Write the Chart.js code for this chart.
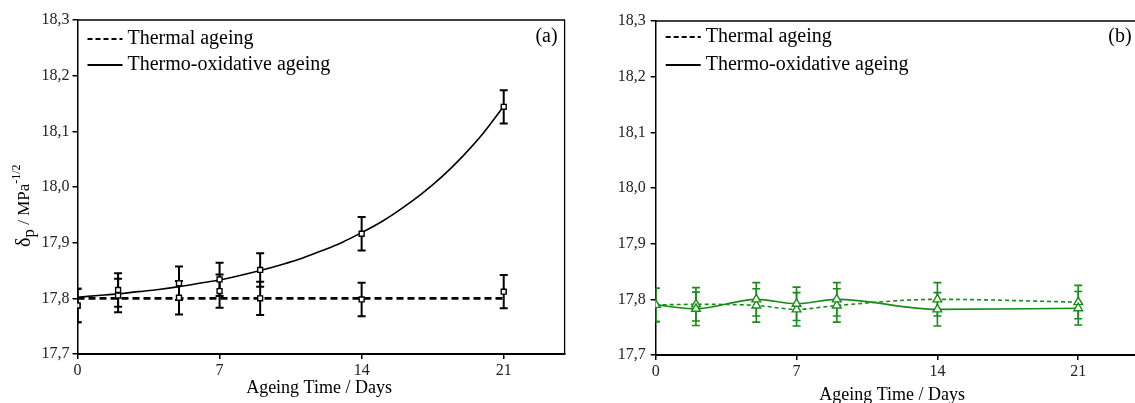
<!DOCTYPE html>
<html>
<head>
<meta charset="utf-8">
<title>Solubility parameter vs ageing time</title>
<script src="https://cdn.jsdelivr.net/npm/chart.js@4.4.1/dist/chart.umd.min.js"></script>
<style>
  html, body { margin: 0; padding: 0; background: #fff; overflow: hidden; }
  #wrap { position: relative; width: 1135px; height: 403px; overflow: hidden; }
  #chartA { position: absolute; left: 0; top: 0; }
  #chartB { position: absolute; left: 570px; top: 0; }
</style>
</head>
<body>
<div id="wrap">
  <canvas id="chartA" width="570" height="403"></canvas>
  <canvas id="chartB" width="575" height="403"></canvas>
</div>
<script>
let days = [0, 2, 5, 7, 9, 14, 21]
let dayTicks = [0, 7, 14, 21]
let deltaTicks = [17.7, 17.8, 17.9, 18.0, 18.1, 18.2, 18.3]
let seriesNames = ['Thermal ageing', 'Thermo-oxidative ageing']

// panel (a)
let thermalA = [17.787, 17.805, 17.801, 17.813, 17.800, 17.798, 17.812]
let thermalAErr = [0.03, 0.03, 0.03, 0.03, 0.03, 0.03, 0.03]
let oxidativeA = [17.787, 17.815, 17.827, 17.834, 17.851, 17.916, 18.144]
let oxidativeAErr = [0.03, 0.03, 0.03, 0.03, 0.03, 0.03, 0.03]
let thermalFitDays = [0, 21]
let thermalFitA = [17.800, 17.800]
let oxidativeFitDays = [0, 1, 2, 3, 4, 5, 6, 7, 8, 9, 10, 11, 12, 13, 14, 15, 16, 17, 18, 19, 20, 21]
let oxidativeFitA = [17.802, 17.805, 17.808, 17.812, 17.816, 17.821, 17.827, 17.833, 17.841, 17.850,
  17.860, 17.871, 17.885, 17.900, 17.918, 17.938, 17.962, 17.989, 18.020, 18.056, 18.097, 18.145]

// panel (b)
let thermalB = [17.790, 17.791, 17.789, 17.782, 17.789, 17.800, 17.795]
let thermalBErr = [0.03, 0.03, 0.03, 0.03, 0.03, 0.03, 0.03]
let oxidativeB = [17.790, 17.783, 17.800, 17.792, 17.800, 17.782, 17.784]
let oxidativeBErr = [0.03, 0.03, 0.03, 0.03, 0.03, 0.03, 0.03]

let serif = '"Liberation Serif", "Times New Roman", serif'
let green = 'rgb(24,140,24)'

let points = (xs, ys) => xs.map((x, i) => ({ x: x, y: ys[i] }))

// vertical error bars with caps, drawn under the markers
let errorBars = {
  id: 'errorBars',
  beforeDatasetsDraw(chart) {
    let c = chart.ctx, xs = chart.scales.x, ys = chart.scales.y, a = chart.chartArea
    c.save()
    c.beginPath()
    c.rect(a.left, a.top, a.right - a.left, a.bottom - a.top)
    c.clip()
    chart.data.datasets.forEach(ds => {
      if (!ds.errors) return
      c.strokeStyle = ds.borderColor
      c.lineWidth = ds.errorWidth
      ds.data.forEach((p, i) => {
        let px = xs.getPixelForValue(p.x)
        let top = ys.getPixelForValue(p.y + ds.errors[i])
        let bot = ys.getPixelForValue(p.y - ds.errors[i])
        c.beginPath()
        c.moveTo(px, top); c.lineTo(px, bot)
        c.moveTo(px - 4, top); c.lineTo(px + 4, top)
        c.moveTo(px - 4, bot); c.lineTo(px + 4, bot)
        c.stroke()
      })
    })
    c.restore()
  }
}

let drawYTitle = (c, x, yStart, supSize) => {
  let parts = [['δ', 20, 0], ['p', 17, 5], [' / MPa', 17, 0], ['-1/2', supSize, -8]]
  c.save()
  c.translate(x, yStart)
  c.rotate(-Math.PI / 2)
  c.textBaseline = 'middle'
  c.textAlign = 'left'
  c.fillStyle = '#000'
  let u = 0
  parts.forEach(([t, size, dy]) => {
    c.font = size + 'px ' + serif
    c.fillText(t, u, dy)
    u += c.measureText(t).width
  })
  c.restore()
}

// box frame, legend, panel letter and axis titles
let decorations = (panel) => ({
  id: 'decorations',
  afterDraw(chart) {
    let c = chart.ctx, a = chart.chartArea
    c.save()
    c.strokeStyle = '#000'
    c.lineWidth = 1.3
    c.beginPath()
    c.moveTo(a.left, a.top); c.lineTo(a.right, a.top); c.lineTo(a.right, a.bottom)
    c.stroke()

    c.font = '20px ' + serif
    c.textBaseline = 'middle'
    c.fillStyle = '#000'
    seriesNames.forEach((name, i) => {
      let y = panel.legendY[i]
      c.lineWidth = 2.2
      c.setLineDash(i == 0 ? [5, 3] : [])
      c.beginPath()
      c.moveTo(a.left + 10, y); c.lineTo(a.left + 45, y)
      c.stroke()
      c.setLineDash([])
      c.textAlign = 'left'
      c.fillText(name, a.left + 50, y)
    })
    c.textAlign = 'right'
    c.fillText(panel.letter, a.right - 7, 37)

    c.font = '18px ' + serif
    c.textAlign = 'center'
    c.fillText('Ageing Time / Days', (a.left + a.right) / 2 + panel.xTitleShift, panel.xTitleY)
    c.restore()
    drawYTitle(c, panel.yTitleX, 247, panel.supSize)
  }
})

let makePanel = (id, panel) => {
  let ctx = document.getElementById(id).getContext('2d')
  return new Chart(ctx, {
    type: 'scatter',
    data: { datasets: panel.datasets },
    options: {
      responsive: false,
      animation: false,
      layout: { padding: panel.padding },
      plugins: { legend: { display: false }, tooltip: { enabled: false } },
      scales: {
        x: {
          type: 'linear', min: 0, max: 24,
          afterBuildTicks: s => { s.ticks = dayTicks.map(v => ({ value: v })) },
          afterFit: s => { s.height = panel.xHeight },
          ticks: { font: { family: serif, size: 16 }, color: '#222', padding: 2 },
          grid: { drawOnChartArea: false, tickLength: 5, color: '#000', lineWidth: 1.5 },
          border: { color: '#000', width: 2 }
        },
        y: {
          type: 'linear', min: 17.7, max: 18.3,
          afterBuildTicks: s => { s.ticks = deltaTicks.map(v => ({ value: v })) },
          afterFit: s => { s.width = panel.yWidth },
          ticks: {
            font: { family: serif, size: 16 }, color: '#222', padding: panel.yPad,
            callback: v => v.toFixed(1).replace('.', ',')
          },
          grid: { drawOnChartArea: false, tickLength: 5, color: '#000', lineWidth: 1.5 },
          border: { color: '#000', width: 1.5 }
        }
      }
    },
    plugins: [errorBars, decorations(panel)]
  })
}

let squares = {
  showLine: false, pointStyle: 'rect', pointRadius: 3.5,
  pointBackgroundColor: '#fff', pointBorderColor: '#000', pointBorderWidth: 1.4,
  borderColor: '#000', errorWidth: 2
}

makePanel('chartA', {
  letter: '(a)',
  padding: { top: 20, right: 3, left: 0, bottom: 0 },
  yWidth: 77.5, xHeight: 49, yPad: 3,
  legendY: [39, 65],
  xTitleY: 388, xTitleShift: -2,
  yTitleX: 25, supSize: 12,
  datasets: [
    Object.assign({ data: points(days, oxidativeA), errors: oxidativeAErr }, squares),
    Object.assign({ data: points(days, thermalA), errors: thermalAErr }, squares),
    {
      data: points(oxidativeFitDays, oxidativeFitA), showLine: true, pointRadius: 0,
      borderColor: '#000', borderWidth: 1.6, cubicInterpolationMode: 'monotone'
    },
    {
      data: points(thermalFitDays, thermalFitA), showLine: true, pointRadius: 0,
      borderColor: '#000', borderWidth: 2.6, borderDash: [7, 4]
    }
  ]
})

let triangles = {
  showLine: true, pointStyle: 'triangle', pointRadius: 5,
  pointBackgroundColor: '#fff', pointBorderColor: green, pointBorderWidth: 1.4,
  borderColor: green, borderWidth: 1.6, errorWidth: 1.6, cubicInterpolationMode: 'monotone'
}

makePanel('chartB', {
  letter: '(b)',
  padding: { top: 21, right: 6, left: 0, bottom: 0 },
  yWidth: 85.7, xHeight: 48, yPad: 5,
  legendY: [37, 65],
  xTitleY: 395, xTitleShift: -5,
  yTitleX: 605, supSize: 15,
  datasets: [
    Object.assign({ data: points(days, oxidativeB), errors: oxidativeBErr }, triangles),
    Object.assign({ data: points(days, thermalB), errors: thermalBErr, borderDash: [4, 3] }, triangles)
  ]
})
</script>
</body>
</html>
